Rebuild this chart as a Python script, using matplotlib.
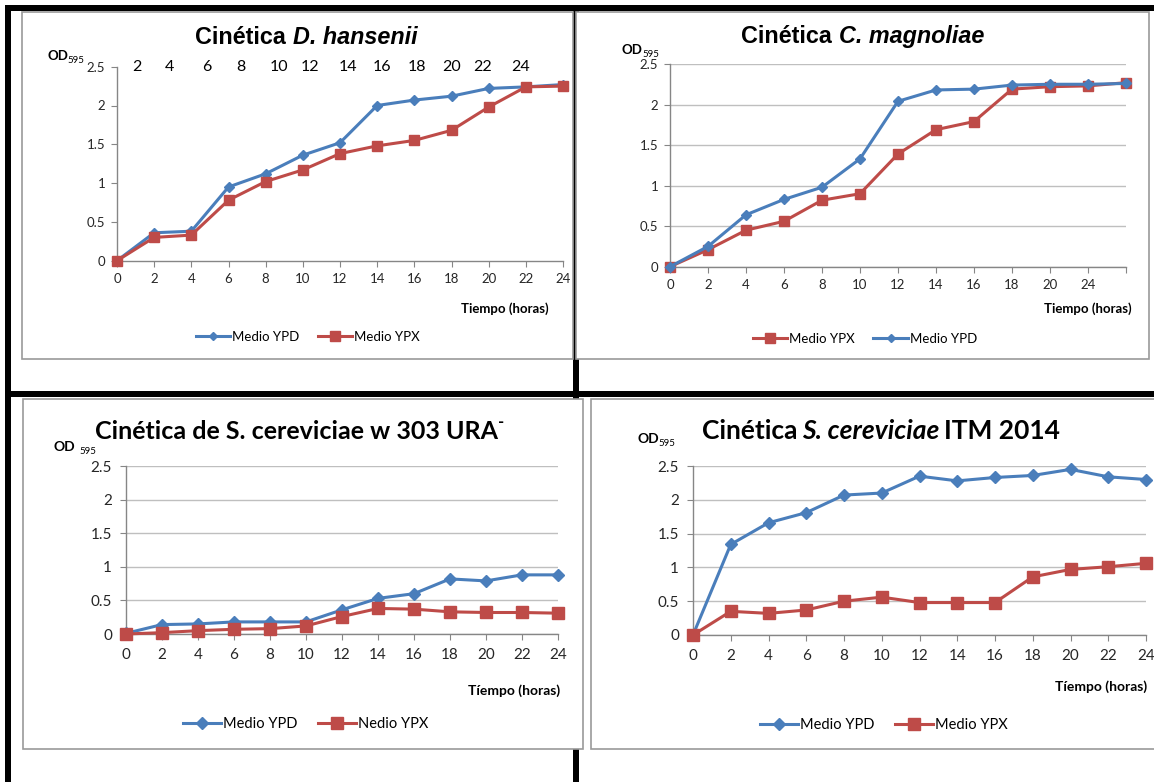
import matplotlib
matplotlib.use("Agg")
import matplotlib.pyplot as plt
from matplotlib.patches import Rectangle
from matplotlib.lines import Line2D

# ---------------- data ----------------
hours = [0, 2, 4, 6, 8, 10, 12, 14, 16, 18, 20, 22, 24]

dh_ypd = [0, 0.36, 0.38, 0.95, 1.12, 1.36, 1.52, 2.0, 2.07, 2.12, 2.22, 2.24, 2.27]
dh_ypx = [0, 0.30, 0.33, 0.78, 1.02, 1.17, 1.38, 1.48, 1.55, 1.68, 1.98, 2.24, 2.25]
dh_top_labels = ["2", "4", "6", "8", "10", "12", "14", "16", "18", "20", "22", "24"]
dh_top_pos = [1.05, 2.8, 4.81, 6.64, 8.7, 10.37, 12.42, 14.26, 16.16, 18.03, 19.69, 21.74]

cm_labels = ["0", "2", "4", "6", "8", "10", "12", "14", "16", "18", "20", "24", ""]
cm_ypx = [0, 0.21, 0.45, 0.56, 0.82, 0.90, 1.39, 1.69, 1.79, 2.19, 2.22, 2.23, 2.27]
cm_ypd = [0, 0.25, 0.64, 0.83, 0.98, 1.33, 2.04, 2.18, 2.19, 2.24, 2.25, 2.25, 2.26]

sw_ypd = [0.01, 0.14, 0.15, 0.18, 0.18, 0.18, 0.36, 0.53, 0.60, 0.82, 0.79, 0.88, 0.88]
sw_ypx = [0, 0.02, 0.05, 0.07, 0.08, 0.12, 0.26, 0.38, 0.37, 0.33, 0.32, 0.32, 0.31]

si_ypd = [0, 1.34, 1.66, 1.81, 2.07, 2.10, 2.35, 2.28, 2.33, 2.36, 2.45, 2.34, 2.30]
si_ypx = [0, 0.35, 0.32, 0.37, 0.50, 0.56, 0.48, 0.48, 0.48, 0.86, 0.97, 1.01, 1.06]

yticks = [0, 0.5, 1, 1.5, 2, 2.5]
ytick_labels = ["0", "0.5", "1", "1.5", "2", "2.5"]

# ---------------- style ----------------
W, H = 1154, 782
BLUE = "#4A7EBB"
RED = "#BE4B48"
AXC = "#868686"
GRID = "#BFBFBF"
TXT = "#262626"
CAL = ["Lato", "DejaVu Sans"]
ARI = ["Liberation Sans", "DejaVu Sans"]

fig = plt.figure(figsize=(W / 100, H / 100), dpi=100)
fig.patch.set_facecolor("white")
renderer = fig.canvas.get_renderer()


def fx(x):
    return x / W


def fy(y):
    return 1 - y / H


def rect(x0, y0, x1, y1, fc, ec="none", lw=0, z=0):
    fig.add_artist(Rectangle((fx(x0), fy(y1)), fx(x1) - fx(x0), fy(y0) - fy(y1),
                             transform=fig.transFigure, facecolor=fc,
                             edgecolor=ec, linewidth=lw, zorder=z))


def pieces(x, y, parts, ha="center"):
    """Draw text pieces side by side; x,y in px (y = baseline from top)."""
    texts, widths = [], []
    for s, kw in parts:
        kw = dict(kw)
        gap = kw.pop("gap", 0)
        kw.pop("dy", None)
        t = fig.text(0, 0, s, ha="left", va="baseline", **kw)
        w = t.get_window_extent(renderer).width if s.strip() else 0
        texts.append(t)
        widths.append(w + gap)
    total = sum(widths)
    cur = x - total / 2 if ha == "center" else (x - total if ha == "right" else x)
    for t, w, (s, kw) in zip(texts, widths, parts):
        t.set_position((fx(cur), fy(y - kw.get("dy", 0))))
        cur += w


# ---------------- frame (black table lines + gray chart boxes) ----------------
rect(5, 5, W, 11, "black", z=0)
rect(5, 5, 11, H, "black", z=0)
rect(573, 5, 579, H, "black", z=0)
rect(5, 391, W, 397, "black", z=0)

rect(22, 12, 573, 359, "white", "#9A9A9A", 1.2, z=1)
rect(576, 12, 1149, 359, "white", "#9A9A9A", 1.2, z=1)
rect(23, 399, 583, 749, "white", "#9A9A9A", 1.2, z=1)
rect(591, 399, 1160, 749, "white", "#9A9A9A", 1.2, z=1)


def make_ax(x0, ytop, x1, ybot, fs, pad, grid):
    ax = fig.add_axes([fx(x0), fy(ybot), fx(x1) - fx(x0), fy(ytop) - fy(ybot)])
    ax.set_zorder(3)
    ax.patch.set_alpha(0)
    for s in ["top", "right"]:
        ax.spines[s].set_visible(False)
    for s in ["left", "bottom"]:
        ax.spines[s].set_color(AXC)
        ax.spines[s].set_linewidth(1.0)
    ax.set_ylim(0, 2.5)
    ax.set_yticks(yticks)
    ax.set_yticklabels(ytick_labels)
    ax.tick_params(axis="both", direction="out", length=4, color=AXC,
                   labelsize=fs, labelcolor=TXT, pad=pad)
    for lab in ax.get_xticklabels() + ax.get_yticklabels():
        lab.set_family(CAL)
    if grid:
        ax.yaxis.grid(True, color=GRID, linewidth=1.0)
        ax.set_axisbelow(True)
    return ax


def series(ax, x, y, color, marker, ms, lw=2.2):
    ax.plot(x, y, color=color, lw=lw, marker=marker, ms=ms, mfc=color,
            mec=color, clip_on=False, zorder=5)


def legend(cx, cy, items, fs):
    handles = [Line2D([], [], color=c, lw=2.2, marker=m, ms=ms, mfc=c, mec=c)
               for (_, c, m, ms) in items]
    leg = fig.legend(handles, [t for (t, _, _, _) in items], loc="center",
                     bbox_to_anchor=(fx(cx), fy(cy)), ncol=len(items),
                     frameon=False, handlelength=2.6, handletextpad=0.15,
                     columnspacing=1.4, prop={"family": CAL, "size": fs})
    leg.set_zorder(6)


# ---------------- panel 1: D. hansenii ----------------
ax1 = make_ax(117, 66.7, 563, 260.7, 9.5, 4.5, False)
ax1.set_xlim(0, 24)
ax1.set_xticks(hours)
ax1.set_xticklabels([str(h) for h in hours], family=CAL)
series(ax1, hours, dh_ypd, BLUE, "D", 5.5)
series(ax1, hours, dh_ypx, RED, "s", 7)
for lab, p in zip(dh_top_labels, dh_top_pos):
    ax1.text(p, 2.5, lab, ha="center", va="center", fontsize=11.5,
             family=CAL, color="black", transform=ax1.transData)

pieces(306, 44, [("Cinética", dict(fontsize=16.8, weight="bold", family=ARI, gap=7)),
                 ("D. hansenii", dict(fontsize=16.8, weight="bold", style="italic", family=ARI))])
pieces(47, 60, [("OD", dict(fontsize=9.5, weight="bold", family=CAL)),
                ("595", dict(fontsize=7, family=CAL, dy=-3))], ha="left")
pieces(549, 313, [("Tiempo (horas)", dict(fontsize=9.5, weight="bold", family=CAL))], ha="right")
legend(308, 337, [("Medio YPD", BLUE, "D", 4.5), ("Medio YPX", RED, "s", 7)], 9.5)

# ---------------- panel 2: C. magnoliae ----------------
ax2 = make_ax(670, 64, 1126, 266.7, 9.5, 4.5, True)
cm_x = list(range(len(cm_labels)))
ax2.set_xlim(0, len(cm_labels) - 1)
ax2.set_xticks(cm_x)
ax2.set_xticklabels(cm_labels, family=CAL)
series(ax2, cm_x, cm_ypx, RED, "s", 7)
series(ax2, cm_x, cm_ypd, BLUE, "D", 5.5)

pieces(863, 43, [("Cinética", dict(fontsize=16.8, weight="bold", family=ARI, gap=7)),
                 ("C. magnoliae", dict(fontsize=16.8, weight="bold", style="italic", family=ARI))])
pieces(622, 54, [("OD", dict(fontsize=9.5, weight="bold", family=CAL)),
                 ("595", dict(fontsize=7, family=CAL, dy=-3))], ha="left")
pieces(1132, 313, [("Tiempo (horas)", dict(fontsize=9.5, weight="bold", family=CAL))], ha="right")
legend(865, 339, [("Medio YPX", RED, "s", 7), ("Medio YPD", BLUE, "D", 4.5)], 9.5)

# ---------------- panel 3: S. cereviciae w 303 URA- ----------------
ax3 = make_ax(126, 466, 558, 634, 11, 6, True)
ax3.set_xlim(0, 24)
ax3.set_xticks(hours)
ax3.set_xticklabels([str(h) for h in hours], family=CAL)
series(ax3, hours, sw_ypd, BLUE, "D", 6.5)
series(ax3, hours, sw_ypx, RED, "s", 8.5)

pieces(300, 439, [("Cinética de S. cereviciae w 303 URA", dict(fontsize=18, weight="bold", family=CAL)),
                  ("-", dict(fontsize=12, weight="bold", family=CAL, dy=12))])
pieces(54, 451, [("OD", dict(fontsize=10, weight="bold", family=CAL, gap=4)),
                 ("595", dict(fontsize=7, family=CAL, dy=-3))], ha="left")
pieces(560, 695, [("Tíempo (horas)", dict(fontsize=10, weight="bold", family=CAL))], ha="right")
legend(306, 724, [("Medio YPD", BLUE, "D", 6), ("Nedio YPX", RED, "s", 8)], 10.5)

# ---------------- panel 4: S. cereviciae ITM 2014 ----------------
ax4 = make_ax(693, 466, 1146, 635, 11, 6, True)
ax4.set_xlim(0, 24)
ax4.set_xticks(hours)
ax4.set_xticklabels([str(h) for h in hours], family=CAL)
series(ax4, hours, si_ypd, BLUE, "D", 6.5)
series(ax4, hours, si_ypx, RED, "s", 8.5)

pieces(881, 439, [("Cinética", dict(fontsize=19, weight="bold", family=CAL, gap=5)),
                  ("S. cereviciae", dict(fontsize=19, weight="bold", style="italic", family=CAL, gap=5)),
                  ("ITM 2014", dict(fontsize=19, weight="bold", family=CAL))])
pieces(637, 443, [("OD", dict(fontsize=10, weight="bold", family=CAL)),
                  ("595", dict(fontsize=7, family=CAL, dy=-3))], ha="left")
pieces(1147, 691, [("Tíempo (horas)", dict(fontsize=10, weight="bold", family=CAL))], ha="right")
legend(884, 725, [("Medio YPD", BLUE, "D", 6), ("Medio YPX", RED, "s", 8)], 10.5)

fig.savefig("out.png", dpi=100, facecolor="white")
